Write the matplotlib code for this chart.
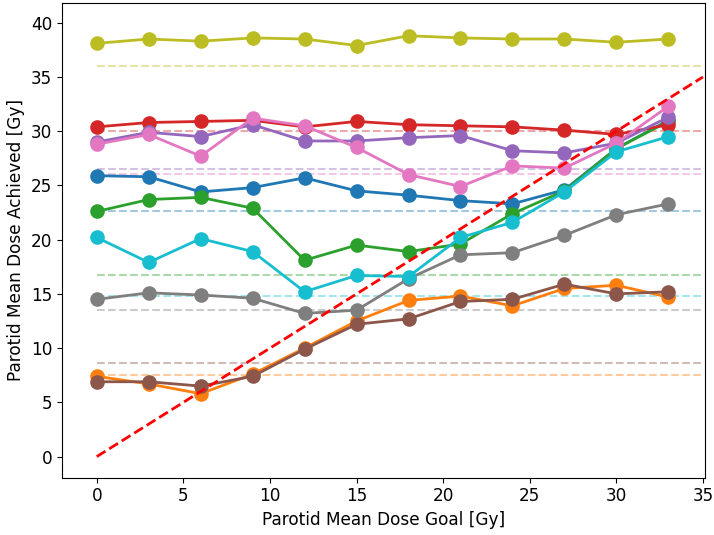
import numpy as np
import matplotlib
matplotlib.use("Agg")
import matplotlib.pyplot as plt

# goal doses [Gy]
goals = [0, 3, 6, 9, 12, 15, 18, 21, 24, 27, 30, 33]

# achieved mean dose per patient, one list per series (tab10 order)
blue = [25.9, 25.8, 24.4, 24.8, 25.7, 24.5, 24.1, 23.6, 23.3, 24.6, 28.4, 31.0]
orange = [7.4, 6.7, 5.8, 7.6, 10.0, 12.5, 14.4, 14.8, 13.9, 15.5, 15.8, 14.7]
green = [22.6, 23.7, 23.9, 22.9, 18.1, 19.5, 18.9, 19.6, 22.4, 24.5, 28.4, 30.9]
red = [30.4, 30.8, 30.9, 31.0, 30.4, 30.9, 30.6, 30.5, 30.4, 30.1, 29.7, 30.6]
purple = [29.0, 29.9, 29.5, 30.6, 29.1, 29.1, 29.4, 29.6, 28.2, 28.0, 28.9, 31.3]
brown = [6.9, 6.9, 6.5, 7.4, 9.9, 12.2, 12.7, 14.3, 14.5, 15.9, 15.0, 15.2]
pink = [28.8, 29.7, 27.7, 31.2, 30.5, 28.5, 26.0, 24.9, 26.8, 26.6, 28.9, 32.3]
gray = [14.5, 15.1, 14.9, 14.6, 13.2, 13.5, 16.4, 18.6, 18.8, 20.4, 22.3, 23.3]
olive = [38.1, 38.5, 38.3, 38.6, 38.5, 37.9, 38.8, 38.6, 38.5, 38.5, 38.2, 38.5]
cyan = [20.2, 17.9, 20.1, 18.9, 15.2, 16.7, 16.6, 20.2, 21.6, 24.4, 28.1, 29.5]

# reference (clinical plan) mean dose for each series
reference = [22.6, 7.55, 16.7, 30.0, 26.5, 8.6, 26.1, 13.5, 36.0, 14.85]

series = [blue, orange, green, red, purple, brown, pink, gray, olive, cyan]

plt.rcParams['font.size'] = 12.2
fig = plt.figure(figsize=(7.14, 5.35), dpi=100)
ax = fig.add_axes([0.087, 0.107, 0.900, 0.887])

for i, vals in enumerate(series):
    color = 'C%d' % i
    ax.plot([0, 35], [reference[i], reference[i]], '--', color=color,
            alpha=0.4, lw=1.5, zorder=1)

for i, vals in enumerate(series):
    ax.plot(goals, vals, '-o', color='C%d' % i, lw=2, markersize=9.5, zorder=2)

ax.plot([0, 35], [0, 35], 'r--', lw=2, zorder=3)

ax.set_xlim(-2, 35.1)
ax.set_ylim(-1.95, 41.8)
ax.set_xticks(np.arange(0, 36, 5))
ax.set_yticks(np.arange(0, 41, 5))
ax.set_xlabel('Parotid Mean Dose Goal [Gy]')
ax.set_ylabel('Parotid Mean Dose Achieved [Gy]')

fig.savefig('out.png', dpi=100)
